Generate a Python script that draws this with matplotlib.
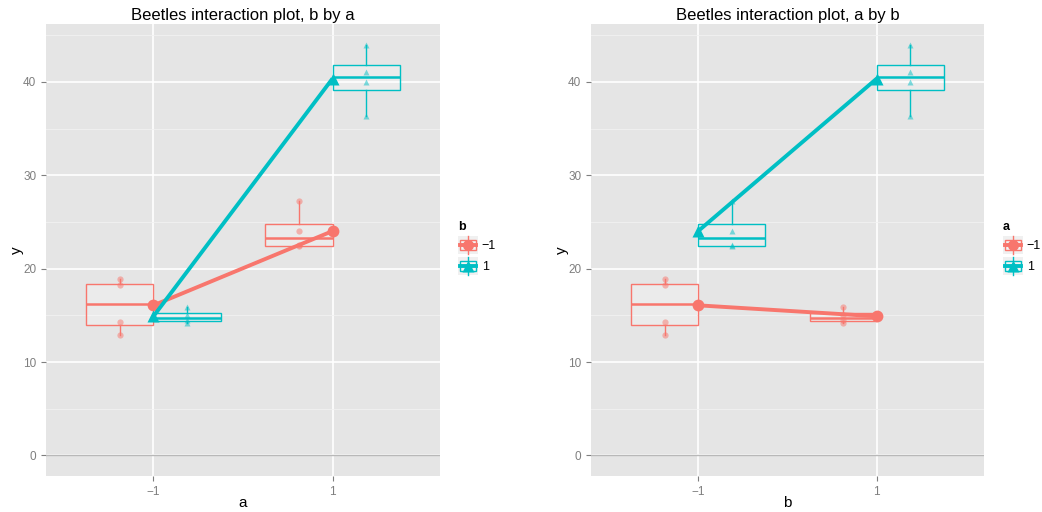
import matplotlib
matplotlib.use("Agg")
import matplotlib.pyplot as plt
import numpy as np
from matplotlib.patches import Rectangle
from matplotlib.lines import Line2D
from matplotlib.legend_handler import HandlerBase

plt.rcParams['font.family'] = ['Liberation Sans', 'DejaVu Sans']

# ---- data (y values per cell) ----
levels = [-1, 1]
tick_labels = ['\u22121', '1']
y_am1_bm1 = [12.9, 14.3, 18.2, 18.9]
y_am1_bp1 = [14.2, 14.5, 15.0, 15.9]
y_ap1_bm1 = [22.4, 22.5, 24.0, 27.2]
y_ap1_bp1 = [36.35, 40.0, 41.1, 44.0]
cells = {(-1, -1): y_am1_bm1, (-1, 1): y_am1_bp1,
         (1, -1): y_ap1_bm1, (1, 1): y_ap1_bp1}

colors = {-1: '#F8766D', 1: '#00BFC4'}
markers = {-1: 'o', 1: '^'}
PANEL = '#E5E5E5'

W, H = 1042, 512
fig = plt.figure(figsize=(W / 100, H / 100), dpi=100)


class KeyHandler(HandlerBase):
    def create_artists(self, legend, orig_handle, xdescent, ydescent,
                       width, height, fontsize, trans):
        c = orig_handle.get_color()
        mk = orig_handle.get_marker()
        x0, y0 = -xdescent, -ydescent
        arts = []
        arts.append(Rectangle((x0, y0), width, height, facecolor='#F0F0F0',
                              edgecolor='none', transform=trans))
        arts.append(Rectangle((x0 + 0.1 * width, y0 + 0.22 * height), 0.8 * width,
                              0.56 * height, facecolor=(1, 1, 1, 0.3),
                              edgecolor=c, lw=1.0, transform=trans))
        xm = x0 + width / 2
        arts.append(Line2D([xm, xm], [y0, y0 + 0.22 * height], color=c, lw=1.0,
                           transform=trans))
        arts.append(Line2D([xm, xm], [y0 + 0.78 * height, y0 + height], color=c,
                           lw=1.0, transform=trans))
        arts.append(Line2D([x0 + 0.1 * width, x0 + 0.9 * width],
                           [y0 + 0.5 * height] * 2, color=c, lw=2.8,
                           transform=trans))
        arts.append(Line2D([xm], [y0 + 0.5 * height], color=c, marker=mk, ms=8,
                           mec='none', lw=0, transform=trans))
        return arts


def ax_rect(l, r, t, b):
    return [l / W, (H - b) / H, (r - l) / W, (b - t) / H]


def draw_panel(ax, xvar, title, xlabel, legend_title, legend_xy):
    ax.set_facecolor(PANEL)
    for s in ax.spines.values():
        s.set_visible(False)
    ax.set_xlim(-2.2, 2.2)
    ax.set_ylim(-2.2, 46.2)
    ax.set_yticks([0, 10, 20, 30, 40])
    ax.set_yticks([5, 15, 25, 35, 45], minor=True)
    ax.set_xticks(levels)
    ax.set_xticklabels(tick_labels)
    ax.grid(True, which='major', color='white', lw=1.2)
    ax.grid(True, which='minor', axis='y', color='#F2F2F2', lw=0.6)
    ax.set_axisbelow(True)
    ax.tick_params(which='major', colors='#7F7F7F', labelsize=8.5,
                   length=3.5, width=0.8, labelcolor='#7F7F7F')
    ax.tick_params(which='minor', length=0)
    ax.axhline(0, color='#B8B8B8', lw=1.0, zorder=1)
    ax.set_title(title, fontsize=12, pad=3)
    ax.set_xlabel(xlabel, fontsize=11, labelpad=-1)
    ax.set_ylabel('y', fontsize=11, labelpad=-1)

    for x in levels:
        for g in levels:
            key = (x, g) if xvar == 'a' else (g, x)
            vals = cells[key]
            pos = x + 0.375 * g
            c = colors[g]
            bp = ax.boxplot([vals], positions=[pos], widths=0.75,
                            showcaps=False, showfliers=False, patch_artist=True,
                            manage_ticks=False, zorder=2)
            for b in bp['boxes']:
                b.set_facecolor((1, 1, 1, 0.25))
                b.set_edgecolor(c)
                b.set_linewidth(1.0)
            for wk in bp['whiskers']:
                wk.set_color(c)
                wk.set_linewidth(1.0)
            for m in bp['medians']:
                m.set_color(c)
                m.set_linewidth(1.8)
            ax.plot([pos] * len(vals), vals, ls='none', marker=markers[g],
                    ms=4.5, color=c, alpha=0.5, mec='none', zorder=3)
    for g in levels:
        xs, ms = [], []
        for x in levels:
            key = (x, g) if xvar == 'a' else (g, x)
            xs.append(x)
            ms.append(np.mean(cells[key]))
        ax.plot(xs, ms, color=colors[g], lw=2.8, marker=markers[g],
                ms=8.5, mec='none', zorder=4, solid_capstyle='butt')

    handles = [Line2D([0], [0], color=colors[g], marker=markers[g]) for g in levels]
    leg = fig.legend(handles, tick_labels, title=legend_title,
                     loc='upper left', bbox_to_anchor=legend_xy,
                     bbox_transform=fig.transFigure, frameon=False,
                     handler_map={Line2D: KeyHandler()},
                     handlelength=1.6, handleheight=1.9, handletextpad=0.3,
                     labelspacing=0.2, fontsize=9, borderpad=0,
                     borderaxespad=0, alignment='left')
    leg.get_title().set_fontweight('bold')
    leg.get_title().set_fontsize(9)


ax1 = fig.add_axes(ax_rect(46, 440, 24, 476))
draw_panel(ax1, 'a', 'Beetles interaction plot, b by a', 'a', 'b', (458 / W, 1 - 221 / H))
ax2 = fig.add_axes(ax_rect(591, 984, 24, 476))
draw_panel(ax2, 'b', 'Beetles interaction plot, a by b', 'b', 'a', (1003 / W, 1 - 221 / H))

fig.savefig('out.png', dpi=100)
